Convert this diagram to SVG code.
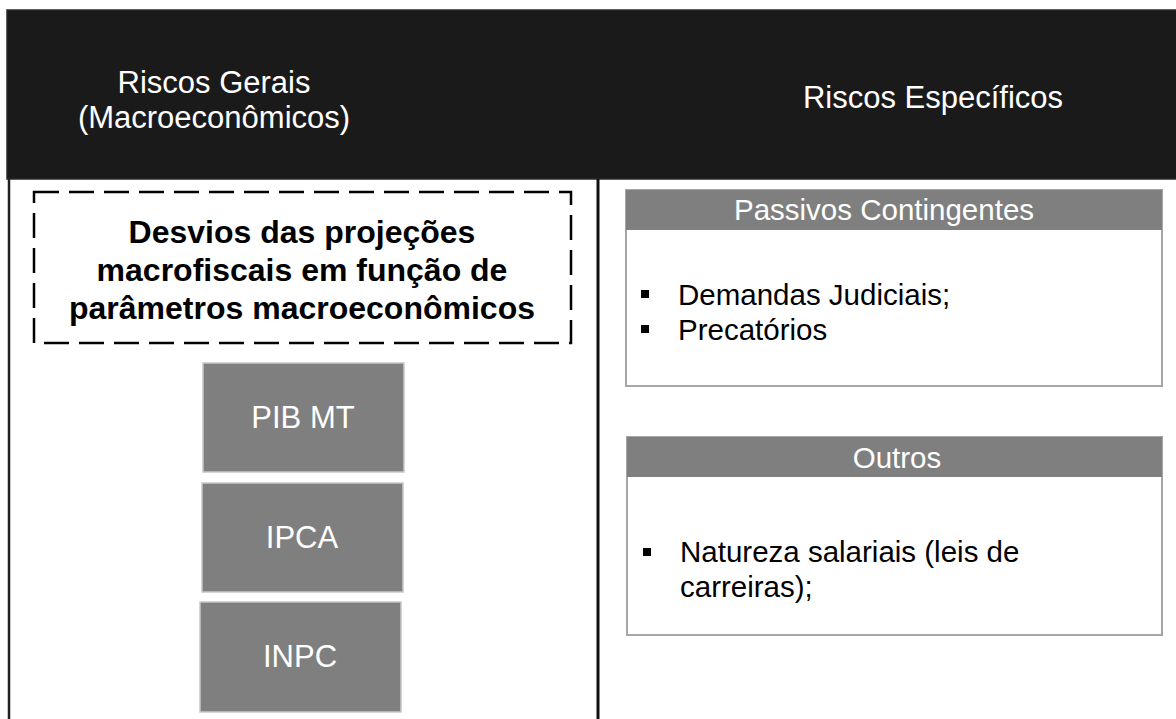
<svg xmlns="http://www.w3.org/2000/svg" width="1176" height="719" viewBox="0 0 1176 719">
<style>
text{font-family:"Liberation Sans",Arial,sans-serif}
.hdr{fill:#ffffff;font-size:31px;text-anchor:middle}
.bold{fill:#000;font-size:32px;font-weight:bold;text-anchor:middle}
.gbox{fill:#7f7f7f;stroke:#c8c8c8;stroke-width:1.5}
.gtxt{fill:#ffffff;font-size:31px;text-anchor:middle}
.btxt{fill:#ffffff;font-size:29.5px;text-anchor:middle}
.panel{fill:#ffffff;stroke:#a6a6a6;stroke-width:2}
.band{fill:#7f7f7f}
.item{fill:#000;font-size:29.5px}
.bul{fill:#000}
</style>
<rect width="1176" height="719" fill="#ffffff"/>
<g id="header">
<rect x="7" y="10" width="1171" height="169" fill="#1a1a1a" stroke="#2a2a2a" stroke-width="1.5"/>
<text class="hdr" x="214" y="93">Riscos Gerais</text>
<text class="hdr" x="214" y="128">(Macroeconômicos)</text>
<text class="hdr" x="933" y="108">Riscos Específicos</text>
</g>
<g id="frame">
<line x1="9" y1="179" x2="9" y2="719" stroke="#222" stroke-width="2.5"/>
<line x1="598" y1="179" x2="598" y2="719" stroke="#111" stroke-width="3"/>
</g>
<g id="desvios">
<rect x="34" y="192" width="537" height="151" fill="none" stroke="#000" stroke-width="2.5" stroke-dasharray="25 10"/>
<text class="bold" x="302" y="243">Desvios das projeções</text>
<text class="bold" x="302" y="281">macrofiscais em função de</text>
<text class="bold" x="302" y="319">parâmetros macroeconômicos</text>
</g>
<g id="pib">
<rect class="gbox" x="203" y="363" width="201" height="109"/>
<text class="gtxt" x="303" y="428">PIB MT</text>
</g>
<g id="ipca">
<rect class="gbox" x="202" y="483" width="201" height="109"/>
<text class="gtxt" x="302" y="548">IPCA</text>
</g>
<g id="inpc">
<rect class="gbox" x="200" y="602" width="201" height="110"/>
<text class="gtxt" x="300" y="667">INPC</text>
</g>
<g id="passivos">
<rect class="panel" x="626" y="190" width="536" height="196"/>
<rect class="band" x="626" y="190" width="536" height="40"/>
<text class="btxt" x="884" y="220">Passivos Contingentes</text>
<rect class="bul" x="641" y="290" width="8" height="8"/>
<text class="item" x="678" y="305">Demandas Judiciais;</text>
<rect class="bul" x="641" y="325" width="8" height="8"/>
<text class="item" x="678" y="340">Precatórios</text>
</g>
<g id="outros">
<rect class="panel" x="627" y="437" width="535" height="198"/>
<rect class="band" x="627" y="437" width="535" height="40"/>
<text class="btxt" x="897" y="468">Outros</text>
<rect class="bul" x="643" y="548" width="8" height="8"/>
<text class="item" x="680" y="562">Natureza salariais (leis de</text>
<text class="item" x="680" y="597">carreiras);</text>
</g>
<g id="connectors"/>
</svg>
